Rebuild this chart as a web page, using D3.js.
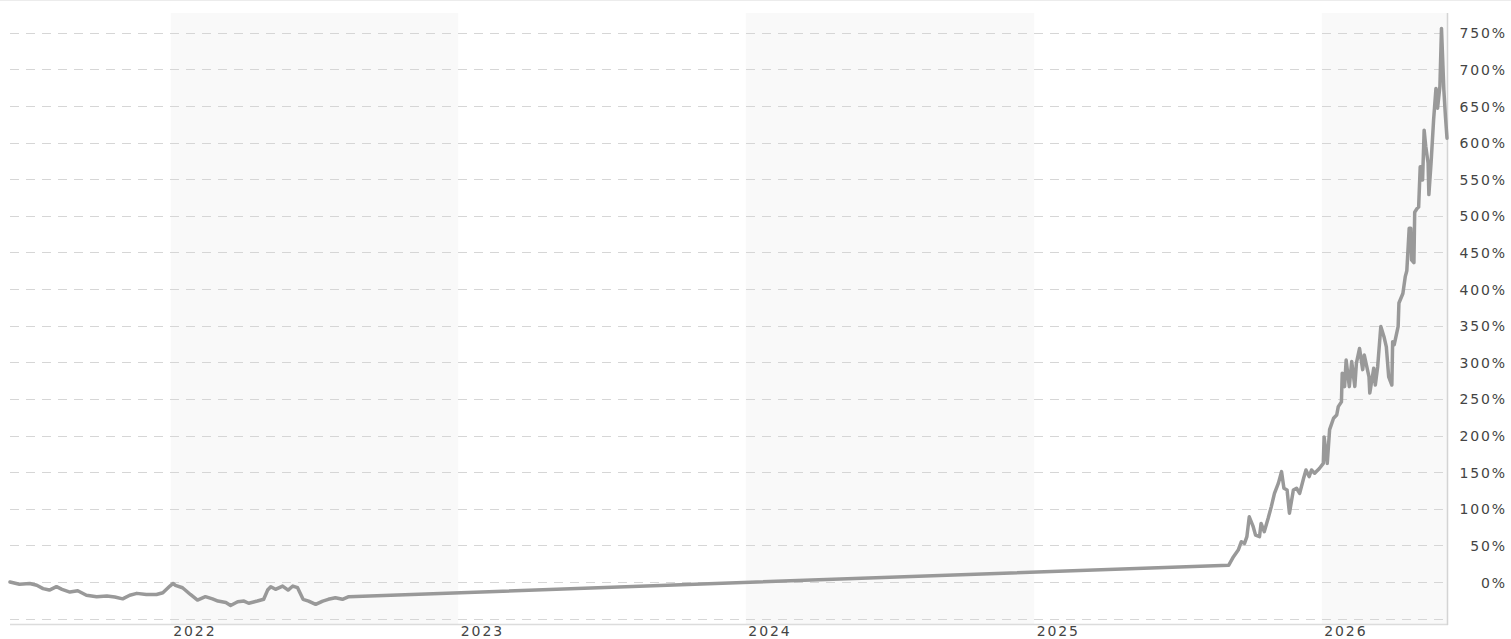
<!DOCTYPE html>
<html>
<head>
<meta charset="utf-8">
<script src="https://cdn.jsdelivr.net/npm/d3@7"></script>
<style>
  html, body { margin: 0; padding: 0; background: #fff; }
  svg { display: block; }
  .tick text { font-family: "DejaVu Sans", Verdana, sans-serif; font-size: 14px; letter-spacing: 1.9px; fill: #444; }
</style>
</head>
<body>
<svg id="chart" width="1511" height="639"></svg>
<script>
// ---- data (percent change) ----
const dates = [
  "2021-06-11","2021-06-23","2021-07-06","2021-07-15","2021-07-23","2021-07-31","2021-08-09","2021-08-16",
  "2021-08-26","2021-09-05","2021-09-16","2021-09-29","2021-10-12","2021-10-22","2021-11-01","2021-11-10",
  "2021-11-19","2021-12-01","2021-12-14","2021-12-22","2021-12-31","2022-01-04","2022-01-07","2022-01-16",
  "2022-01-26","2022-02-04","2022-02-14","2022-02-23","2022-03-02","2022-03-12","2022-03-18","2022-03-27",
  "2022-04-04","2022-04-10","2022-04-21","2022-04-29","2022-05-04","2022-05-08","2022-05-14","2022-05-23",
  "2022-05-30","2022-06-05","2022-06-11","2022-06-18","2022-06-25","2022-07-04","2022-07-13","2022-07-20",
  "2022-07-29","2022-08-07","2022-08-15",
  "2025-09-05","2025-09-11","2025-09-17","2025-09-21","2025-09-25","2025-09-28","2025-10-01","2025-10-06",
  "2025-10-09","2025-10-14","2025-10-16","2025-10-20","2025-10-25","2025-10-29","2025-11-02","2025-11-07",
  "2025-11-11","2025-11-14","2025-11-18","2025-11-21","2025-11-26","2025-11-30","2025-12-04","2025-12-09",
  "2025-12-12","2025-12-16","2025-12-19","2025-12-23","2025-12-29","2026-01-03","2026-01-04","2026-01-08",
  "2026-01-11","2026-01-16","2026-01-20","2026-01-22","2026-01-26","2026-01-27","2026-01-30","2026-02-01",
  "2026-02-05","2026-02-08","2026-02-12","2026-02-14","2026-02-18","2026-02-22","2026-02-24","2026-03-02",
  "2026-03-03","2026-03-08","2026-03-10","2026-03-13","2026-03-17","2026-03-21","2026-03-24","2026-03-27",
  "2026-03-31","2026-04-01","2026-04-03","2026-04-08","2026-04-09","2026-04-14","2026-04-17","2026-04-19",
  "2026-04-22","2026-04-24","2026-04-25","2026-04-28","2026-04-29","2026-05-02","2026-05-04","2026-05-06",
  "2026-05-08","2026-05-09","2026-05-11","2026-05-13","2026-05-16","2026-05-17","2026-05-20","2026-05-23",
  "2026-05-26","2026-05-28","2026-05-31","2026-06-02","2026-06-05","2026-06-07","2026-06-09"
];
const values = [
  0, -3, -2, -4.5, -9, -11, -6.4, -10,
  -13.7, -12, -18, -20, -19, -20.5, -23, -18,
  -15.5, -17, -17, -14.6, -5.5, -2, -4.5, -7.8,
  -17, -24.6, -20, -23, -26, -28, -32, -27,
  -26, -29, -26, -23.6, -11, -6.4, -10, -5.5,
  -11, -5.5, -7.8, -23.6, -26, -30.5, -26, -23.6,
  -21.4, -23.6, -20,
  23, 34.6, 43.7, 55, 52.8, 62, 89, 75.5,
  64, 62, 80, 68.7, 87, 103, 121, 135,
  150.7, 128, 125.7, 94, 125.7, 128, 121, 141.7,
  153, 144, 153, 148.5, 155, 162, 198, 162,
  208, 223.6, 228, 239.5, 246, 285, 266.8, 303,
  266.8, 301, 267, 299, 319, 290, 310, 280,
  258, 292, 269, 294, 349, 335, 321, 280,
  269, 328, 324, 349, 381, 394, 417, 425,
  483, 483, 440, 436, 505, 510, 512, 567,
  567, 549, 617, 595, 572, 529, 576, 631,
  674, 647, 677, 756, 672, 636, 606
];
const yTickValues = [-50, 0, 50, 100, 150, 200, 250, 300, 350, 400, 450, 500, 550, 600, 650, 700, 750];
const yLabelValues = [0, 50, 100, 150, 200, 250, 300, 350, 400, 450, 500, 550, 600, 650, 700, 750];
const xTickYears = ["2022", "2023", "2024", "2025", "2026"];
const shadedYears = ["2022", "2024", "2026"];
const yDomain = [-58.7, 777];

// ---- layout ----
const plotLeft = 10, plotRight = 1448, plotTop = 13, plotBottom = 625;
const svg = d3.select("#chart");
const parse = d3.utcParse("%Y-%m-%d");
const parseYear = d3.utcParse("%Y");
const data = dates.map((d, i) => ({ date: parse(d), value: values[i] }));

const x = d3.scaleUtc().domain(d3.extent(data, d => d.date)).range([plotLeft, plotRight - 1]);
const y = d3.scaleLinear().domain(yDomain).range([plotBottom, plotTop]);

// top border line
svg.append("line").attr("x1", 0).attr("x2", 1511).attr("y1", 0.5).attr("y2", 0.5)
  .attr("stroke", "#ececec").attr("stroke-width", 1);

// shaded alternate year bands
svg.append("g").selectAll("rect").data(shadedYears).join("rect")
  .attr("x", d => x(parseYear(d)))
  .attr("y", plotTop)
  .attr("width", d => {
    const s = parseYear(d);
    const e = new Date(Date.UTC(+d + 1, 0, 1));
    return Math.max(0, Math.min(x(e), plotRight) - x(s));
  })
  .attr("height", plotBottom - plotTop)
  .attr("fill", "#f9f9f9");

// dashed horizontal gridlines
svg.append("g").selectAll("line").data(yTickValues).join("line")
  .attr("x1", plotLeft).attr("x2", plotRight)
  .attr("y1", d => Math.round(y(d)) + 0.5).attr("y2", d => Math.round(y(d)) + 0.5)
  .attr("stroke", "#d6d6d6").attr("stroke-width", 1)
  .attr("stroke-dasharray", "9,7");

// axis lines
svg.append("line").attr("x1", plotLeft).attr("x2", plotRight).attr("y1", plotBottom - 0.5).attr("y2", plotBottom - 0.5)
  .attr("stroke", "#dcdcdc").attr("stroke-width", 1.5);
svg.append("line").attr("x1", plotRight - 0.5).attr("x2", plotRight - 0.5).attr("y1", plotTop).attr("y2", plotBottom)
  .attr("stroke", "#d4d4d4").attr("stroke-width", 1.5);

// series line
const line = d3.line().x(d => x(d.date)).y(d => y(d.value));
svg.append("path").datum(data)
  .attr("fill", "none").attr("stroke", "#999999").attr("stroke-width", 3.5)
  .attr("stroke-linejoin", "round").attr("stroke-linecap", "round")
  .attr("d", line);

// y-axis labels (right side)
const yAxis = d3.axisRight(y).tickValues(yLabelValues).tickSize(0).tickPadding(0)
  .tickFormat(d => d + "%");
const gy = svg.append("g").attr("transform", `translate(1507,0)`).call(yAxis);
gy.select(".domain").remove();
gy.selectAll(".tick text").attr("text-anchor", "end").attr("x", 0).attr("dy", "0.36em");

// x-axis labels
const xAxis = d3.axisBottom(x).tickValues(xTickYears.map(parseYear)).tickSize(0).tickPadding(0)
  .tickFormat(d3.utcFormat("%Y"));
const gx = svg.append("g").attr("transform", `translate(0,${plotBottom})`).call(xAxis);
gx.select(".domain").remove();
gx.selectAll(".tick text").attr("text-anchor", "start").attr("x", 2).attr("y", 1).attr("dy", "0.71em");
</script>
</body>
</html>
